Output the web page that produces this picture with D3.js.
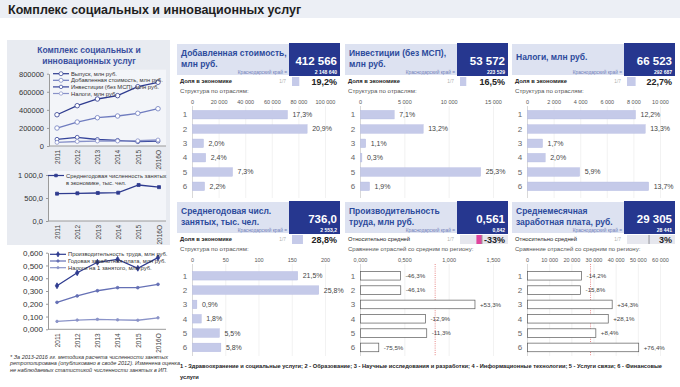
<!DOCTYPE html>
<html>
<head>
<meta charset="utf-8">
<script src="https://cdn.jsdelivr.net/npm/d3@7"></script>
<style>
  body { margin: 0; background: #fff; }
  svg { display: block; font-family: Arial, "Liberation Sans", sans-serif; }
</style>
</head>
<body>
<div id="chart"></div>
<script>
// ---- data ----
const years = ["2011", "2012", "2013", "2014", "2015", "2016О"];
const outputSeries = [346000, 446000, 520000, 557000, 656000, 705000];
const gvaSeries = [199000, 265000, 313000, 332000, 362000, 412566];
const investSeries = [74000, 96000, 72000, 62000, 48000, 53572];
const taxSeries = [40000, 50000, 55000, 55000, 58000, 66523];
const employSeries = [594, 602, 609, 615, 783, 736];
const productivitySeries = [0.341, 0.443, 0.525, 0.548, 0.478, 0.561];
const wageYearSeries = [0.211, 0.261, 0.302, 0.326, 0.326, 0.352];
const taxPerEmpSeries = [0.062, 0.072, 0.078, 0.074, 0.071, 0.090];

const sectors = ["1", "2", "3", "4", "5", "6"];
const gvaValues = [71400, 86200, 8250, 9900, 30100, 9080];
const gvaLabels = ["17,3%", "20,9%", "2,0%", "2,4%", "7,3%", "2,2%"];
const investValues = [3800, 7070, 590, 160, 13550, 1020];
const investLabels = ["7,1%", "13,2%", "1,1%", "0,3%", "25,3%", "1,9%"];
const taxValues = [8120, 8850, 1130, 1330, 3920, 9110];
const taxLabels = ["12,2%", "13,3%", "1,7%", "2,0%", "5,9%", "13,7%"];
const employValues = [158.2, 189.9, 6.6, 13.2, 40.5, 42.7];
const employLabels = ["21,5%", "25,8%", "0,9%", "1,8%", "5,5%", "5,8%"];
const prodValues = [0.452, 0.454, 1.291, 0.733, 0.747, 0.206];
const prodLabels = ["-46,3%", "-46,1%", "+53,3%", "-12,9%", "-11,3%", "-75,5%"];
const wageValues = [24400, 23950, 38200, 36430, 30830, 50170];
const wageLabels = ["-14,2%", "-15,8%", "+34,3%", "+28,1%", "+8,4%", "+76,4%"];

const headTitles = [["Добавленная стоимость,", "млн руб."], ["Инвестиции (без МСП),", "млн руб."], ["Налоги, млн руб."],
                    ["Среднегодовая числ.", "занятых, тыс. чел."], ["Производительность", "труда, млн руб."], ["Среднемесячная", "заработная плата, руб."]];
const headValues = ["412 566", "53 572", "66 523", "736,0", "0,561", "29 305"];
const regionValues = ["2 148 640", "223 529", "292 687", "2 553,2", "0,842", "28 441"];
const shareValues = [19.2, 16.5, 22.7, 28.8, -33, 3];
const shareLabels = ["19,2%", "16,5%", "22,7%", "28,8%", "-33%", "3%"];
const regionAverages = [null, null, null, null, 0.842, 28441];
const axisTicks = [[0, 20000, 40000, 60000, 80000, 100000], [0, 5000, 10000, 15000], [0, 2000, 4000, 6000, 8000, 10000],
                   [0, 50, 100, 150, 200], [0, 0.5, 1, 1.5], [0, 10000, 20000, 30000, 40000, 50000, 60000]];
const barValues = [gvaValues, investValues, taxValues, employValues, prodValues, wageValues];
const barLabels = [gvaLabels, investLabels, taxLabels, employLabels, prodLabels, wageLabels];

const legendText = "1 - Здравоохранение и социальные услуги; 2 - Образование; 3 - Научные исследования и разработки; 4 - Информационные технологии; 5 - Услуги связи; 6 - Финансовые";

// ---- helpers ----
const spaced = d3.formatLocale({decimal: ",", thousands: " ", grouping: [3], currency: ["", ""]});
const fmtInt = spaced.format(",d");
const fmtPlain = d3.format("d");

const svg = d3.select("#chart").append("svg")
    .attr("width", 680)
    .attr("height", 387);

// title bar
svg.append("rect").attr("x", 0).attr("y", 0).attr("width", 680).attr("height", 18).attr("fill", "#eceff5");
svg.append("text").attr("x", 8).attr("y", 13.5)
    .text("Комплекс социальных и инновационных услуг")
    .style("font-size", "12.5px").style("font-weight", "bold").attr("fill", "#1e1e1e");

// left panel background
svg.append("rect").attr("x", 7).attr("y", 40).attr("width", 163).attr("height", 205).attr("fill", "#e8ebf1");
svg.append("text").attr("x", 89).attr("y", 53).attr("text-anchor", "middle")
    .text("Комплекс социальных и").style("font-size", "8.5px").style("font-weight", "bold").attr("fill", "#3a4f9f");
svg.append("text").attr("x", 89).attr("y", 64).attr("text-anchor", "middle")
    .text("инновационных услуг").style("font-size", "8.5px").style("font-weight", "bold").attr("fill", "#3a4f9f");

function drawLines(o) {
  let x = d3.scalePoint().domain(years).range([o.x0, o.x1]);
  let y = d3.scaleLinear().domain(o.domain).range([o.yBottom, o.yTop]);
  let g = svg.append("g");

  if (o.plotFill) {
    g.append("rect").attr("x", o.axisX).attr("y", o.yTop - 4)
      .attr("width", 166 - o.axisX).attr("height", o.yBottom - o.yTop + 4).attr("fill", o.plotFill);
  }

  // y axis
  let ya = g.append("g").attr("transform", "translate(" + o.axisX + ",0)")
    .call(d3.axisLeft(y).tickValues(o.ticks).tickFormat(o.fmt).tickSize(2).tickSizeOuter(0));
  ya.select(".domain").attr("stroke", "#9a9a9a");
  ya.selectAll("line").attr("stroke", "#9a9a9a");
  ya.selectAll("text").style("font-size", o.fontSize).attr("fill", "#333").attr("x", -5);

  // x axis with rotated years
  let xa = g.append("g").attr("transform", "translate(0," + o.yBottom + ")")
    .call(d3.axisBottom(x).tickSize(0).tickSizeOuter(0));
  xa.select(".domain").attr("d", "M" + o.axisX + ",0H166").attr("stroke", "#9a9a9a");
  xa.selectAll("text")
    .attr("y", 0).attr("x", -4).attr("dy", "0.35em")
    .attr("transform", "rotate(-90)")
    .style("text-anchor", "end").style("font-size", "6.5px").attr("fill", "#444");

  o.series.forEach(function(s) {
    g.append("path")
      .datum(s.values)
      .attr("fill", "none").attr("stroke", s.color).attr("stroke-width", 1.3)
      .attr("d", d3.line().x(function(d, i) { return x(years[i]); }).y(function(d) { return y(d); }));
    g.selectAll(null).data(s.values).enter()
      .append("path")
        .attr("transform", function(d, i) { return "translate(" + x(years[i]) + "," + y(d) + ")"; })
        .attr("d", d3.symbol().type(s.symbol).size(s.size))
        .attr("fill", s.fill).attr("stroke", s.color).attr("stroke-width", 0.8);
  });

  // legend
  o.legend.forEach(function(l, i) {
    let s = o.series[i];
    let ly = o.legendY + i * o.legendStep;
    g.append("line").attr("x1", o.legendX).attr("x2", o.legendX + 16).attr("y1", ly).attr("y2", ly)
      .attr("stroke", s.color).attr("stroke-width", 1.2);
    g.append("path").attr("transform", "translate(" + (o.legendX + 8) + "," + ly + ")")
      .attr("d", d3.symbol().type(s.symbol).size(s.size * 0.8))
      .attr("fill", s.fill).attr("stroke", s.color).attr("stroke-width", 0.7);
    l.forEach(function(line, k) {
      g.append("text").attr("x", o.legendX + 18).attr("y", ly + 2 + k * 7.5)
        .text(line).style("font-size", "5.8px").attr("fill", "#333");
    });
  });
}

// chart 1: output, GVA, investment, taxes
drawLines({
  x0: 57, x1: 158, axisX: 49, yBottom: 146, yTop: 73.7, domain: [0, 800000],
  ticks: [0, 200000, 400000, 600000, 800000], fmt: fmtPlain, fontSize: "7.5px", plotFill: "#f3f5f9",
  series: [
    {values: outputSeries, color: "#2e3b8f", fill: "#fff", symbol: d3.symbolCircle, size: 16},
    {values: gvaSeries, color: "#6f7cbf", fill: "#fff", symbol: d3.symbolCircle, size: 16},
    {values: investSeries, color: "#34439a", fill: "#fff", symbol: d3.symbolCircle, size: 12},
    {values: taxSeries, color: "#8992c9", fill: "#fff", symbol: d3.symbolCircle, size: 12}
  ],
  legend: [["Выпуск, млн руб."], ["Добавленная стоимость, млн руб."], ["Инвестиции (без МСП), млн руб."], ["Налоги, млн руб."]],
  legendX: 53, legendY: 73.7, legendStep: 6.6
});

// chart 2: employment
drawLines({
  x0: 57, x1: 159, axisX: 48, yBottom: 221, yTop: 175, domain: [0, 1000],
  ticks: [0, 500, 1000], fmt: function(d) { return fmtInt(d) + ",0"; }, fontSize: "7.5px", plotFill: "#f3f5f9",
  series: [
    {values: employSeries, color: "#2e3b8f", fill: "#2e3b8f", symbol: d3.symbolSquare, size: 9}
  ],
  legend: [["Среднегодовая численность занятых", "в экономике, тыс. чел."]],
  legendX: 48, legendY: 175.5, legendStep: 0
});

// chart 3: per-employee indicators
drawLines({
  x0: 57, x1: 158, axisX: 48, yBottom: 329.3, yTop: 252.7, domain: [0, 0.6],
  ticks: [0, 0.1, 0.2, 0.3, 0.4, 0.5, 0.6], fmt: function(d) { return d3.format(".3f")(d).replace(".", ","); }, fontSize: "8px",
  series: [
    {values: productivitySeries, color: "#2e3b8f", fill: "#2e3b8f", symbol: d3.symbolDiamond, size: 10},
    {values: wageYearSeries, color: "#6570b5", fill: "#6570b5", symbol: d3.symbolCircle, size: 6},
    {values: taxPerEmpSeries, color: "#8a93c8", fill: "#8a93c8", symbol: d3.symbolCircle, size: 5}
  ],
  legend: [["Производительность труда, млн руб."], ["Годовая заработная плата, млн руб."], ["Налоги на 1 занятого, млн руб."]],
  legendX: 50, legendY: 254.3, legendStep: 6.7
});

// footnote
["* За 2013-2016 гг. методика расчета численности занятых",
 "ретрополирована (опубликовано в своде 2012). Изменена оценка",
 "не наблюдаемых статистикой численности занятых в ИП."].forEach(function(t, i) {
  svg.append("text").attr("x", 10).attr("y", 358.5 + i * 6.5).text(t)
    .style("font-size", "5.5px").style("font-style", "italic").attr("fill", "#333");
});

// ---- indicator panels ----
const colX = [177, 345, 512];
const rowY = [44, 202];
const rowStart = [63.5, 66.6];

function drawPanel(i) {
  let px = colX[i % 3], row = Math.floor(i / 3), py = rowY[row];
  let rel = regionAverages[i] !== null;
  let g = svg.append("g");

  // header
  g.append("rect").attr("x", px).attr("y", py).attr("width", 112).attr("height", 31).attr("fill", "#dde2f1");
  g.append("rect").attr("x", px + 112).attr("y", py - 1).attr("width", 51).attr("height", 33).attr("fill", "#26378f");
  let lines = headTitles[i];
  lines.forEach(function(t, k) {
    g.append("text").attr("x", px + 4).attr("y", (lines.length === 1 ? py + 16 : py + 11.5 + k * 11)).text(t)
      .style("font-size", "8.5px").style("font-weight", "bold").attr("fill", "#2c4a9c");
  });
  g.append("text").attr("x", px + 110).attr("y", py + 29.5).attr("text-anchor", "end")
    .text("Краснодарский край =").style("font-size", "4.8px").attr("fill", "#7080b8");
  g.append("text").attr("x", px + 160).attr("y", py + 20.5).attr("text-anchor", "end")
    .text(headValues[i]).style("font-size", "11.5px").style("font-weight", "bold").attr("fill", "#fff");
  g.append("text").attr("x", px + 160).attr("y", py + 30).attr("text-anchor", "end")
    .text(regionValues[i]).style("font-size", "5px").style("font-weight", "bold").attr("fill", "#fff");

  // share / relative row
  g.append("text").attr("x", px + 3).attr("y", py + 38.8)
    .text(rel ? "Относительно средней" : "Доля в экономике")
    .style("font-size", "5.8px").style("font-weight", rel ? "normal" : "bold").attr("fill", "#222");
  g.append("text").attr("x", px + 109).attr("y", py + 38.5).attr("text-anchor", "end")
    .text("1/7").style("font-size", "4.8px").attr("fill", "#b0b0b0");
  if (rel) {
    let cs = d3.scaleLinear().domain([-130, 130]).range([px + 115, px + 159]);
    g.append("rect").attr("x", px + 115).attr("y", py + 33).attr("width", 48).attr("height", 9).attr("fill", "#e6e7ee");
    g.append("rect").attr("x", Math.min(cs(0), cs(shareValues[i]))).attr("y", py + 33)
      .attr("width", Math.abs(cs(shareValues[i]) - cs(0))).attr("height", 9)
      .attr("fill", shareValues[i] < 0 ? "#e0459d" : "#c5cae9");
    g.append("line").attr("x1", cs(0)).attr("x2", cs(0)).attr("y1", py + 33).attr("y2", py + 42).attr("stroke", "#9a9a9a");
  } else {
    let cs = d3.scaleLinear().domain([0, 100]).range([0, 38]);
    g.append("rect").attr("x", px + 115).attr("y", py + 33).attr("width", cs(shareValues[i])).attr("height", 9).attr("fill", "#c5cae9");
  }
  g.append("text").attr("x", px + 160).attr("y", py + 41).attr("text-anchor", "end")
    .text(shareLabels[i]).style("font-size", "9px").style("font-weight", "bold").attr("fill", "#222");

  g.append("text").attr("x", px + 3).attr("y", py + 48.5)
    .text(rel ? "Сравнение отраслей со средним по региону:" : "Структура по отраслям:")
    .style("font-size", rel ? "6px" : "6.2px").attr("fill", "#555");

  // bar scales
  let ticks = axisTicks[i];
  let x = d3.scaleLinear().domain([0, ticks[ticks.length - 1]]).range([px + 15.5, px + 148.5]);
  let y = d3.scaleBand().domain(sectors).range([py + rowStart[row], py + rowStart[row] + 86]).paddingInner(0.4).paddingOuter(0.2);
  let tickFmt = i === 4 ? function(d) { return d3.format(".3f")(d).replace(".", ","); } : fmtInt;

  // grid + tick labels
  g.selectAll(null).data(ticks).enter().append("line")
    .attr("x1", function(d) { return x(d); }).attr("x2", function(d) { return x(d); })
    .attr("y1", py + 62).attr("y2", py + 154)
    .attr("stroke", function(d) { return d === 0 ? "#c8c8c8" : "#ececec"; }).attr("stroke-width", 0.7);
  g.selectAll(null).data(ticks).enter().append("text")
    .attr("x", function(d) { return x(d); }).attr("y", py + 59.8).attr("text-anchor", "middle")
    .text(tickFmt).style("font-size", "5.5px").attr("fill", "#555");

  if (rel) {
    g.append("line").attr("x1", x(regionAverages[i])).attr("x2", x(regionAverages[i]))
      .attr("y1", py + 62).attr("y2", py + 154)
      .attr("stroke", "#e05555").attr("stroke-width", 0.7).attr("stroke-dasharray", "1,1.2");
  }

  // rows
  g.selectAll(null).data(sectors).enter().append("text")
    .attr("x", px + 8).attr("y", function(d) { return y(d) + y.bandwidth() / 2; }).attr("dy", "0.35em")
    .attr("text-anchor", "middle").text(function(d) { return d; })
    .style("font-size", "8px").attr("fill", "#666");

  g.selectAll(null).data(barValues[i]).enter().append("rect")
    .attr("x", x(0)).attr("y", function(d, k) { return y(sectors[k]); })
    .attr("width", function(d) { return x(d) - x(0); }).attr("height", y.bandwidth())
    .attr("fill", rel ? "#fff" : "#c5cae9")
    .attr("stroke", rel ? "#5a5a5a" : "#b3b9e0").attr("stroke-width", rel ? 0.7 : 0.4);

  g.selectAll(null).data(barValues[i]).enter().append("text")
    .attr("x", function(d) { return x(d) + 5; })
    .attr("y", function(d, k) { return y(sectors[k]) + y.bandwidth() / 2; }).attr("dy", "0.35em")
    .text(function(d, k) { return barLabels[i][k]; })
    .style("font-size", rel ? "6.2px" : "7px").attr("fill", "#444");
}

for (let i = 0; i < 6; i++) drawPanel(i);

// sector legend
svg.append("text").attr("x", 180).attr("y", 368).text(legendText)
  .style("font-size", "5.7px").style("font-weight", "bold").attr("fill", "#222");
svg.append("text").attr("x", 180).attr("y", 378.5).text("услуги")
  .style("font-size", "5.7px").style("font-weight", "bold").attr("fill", "#222");
</script>
</body>
</html>
